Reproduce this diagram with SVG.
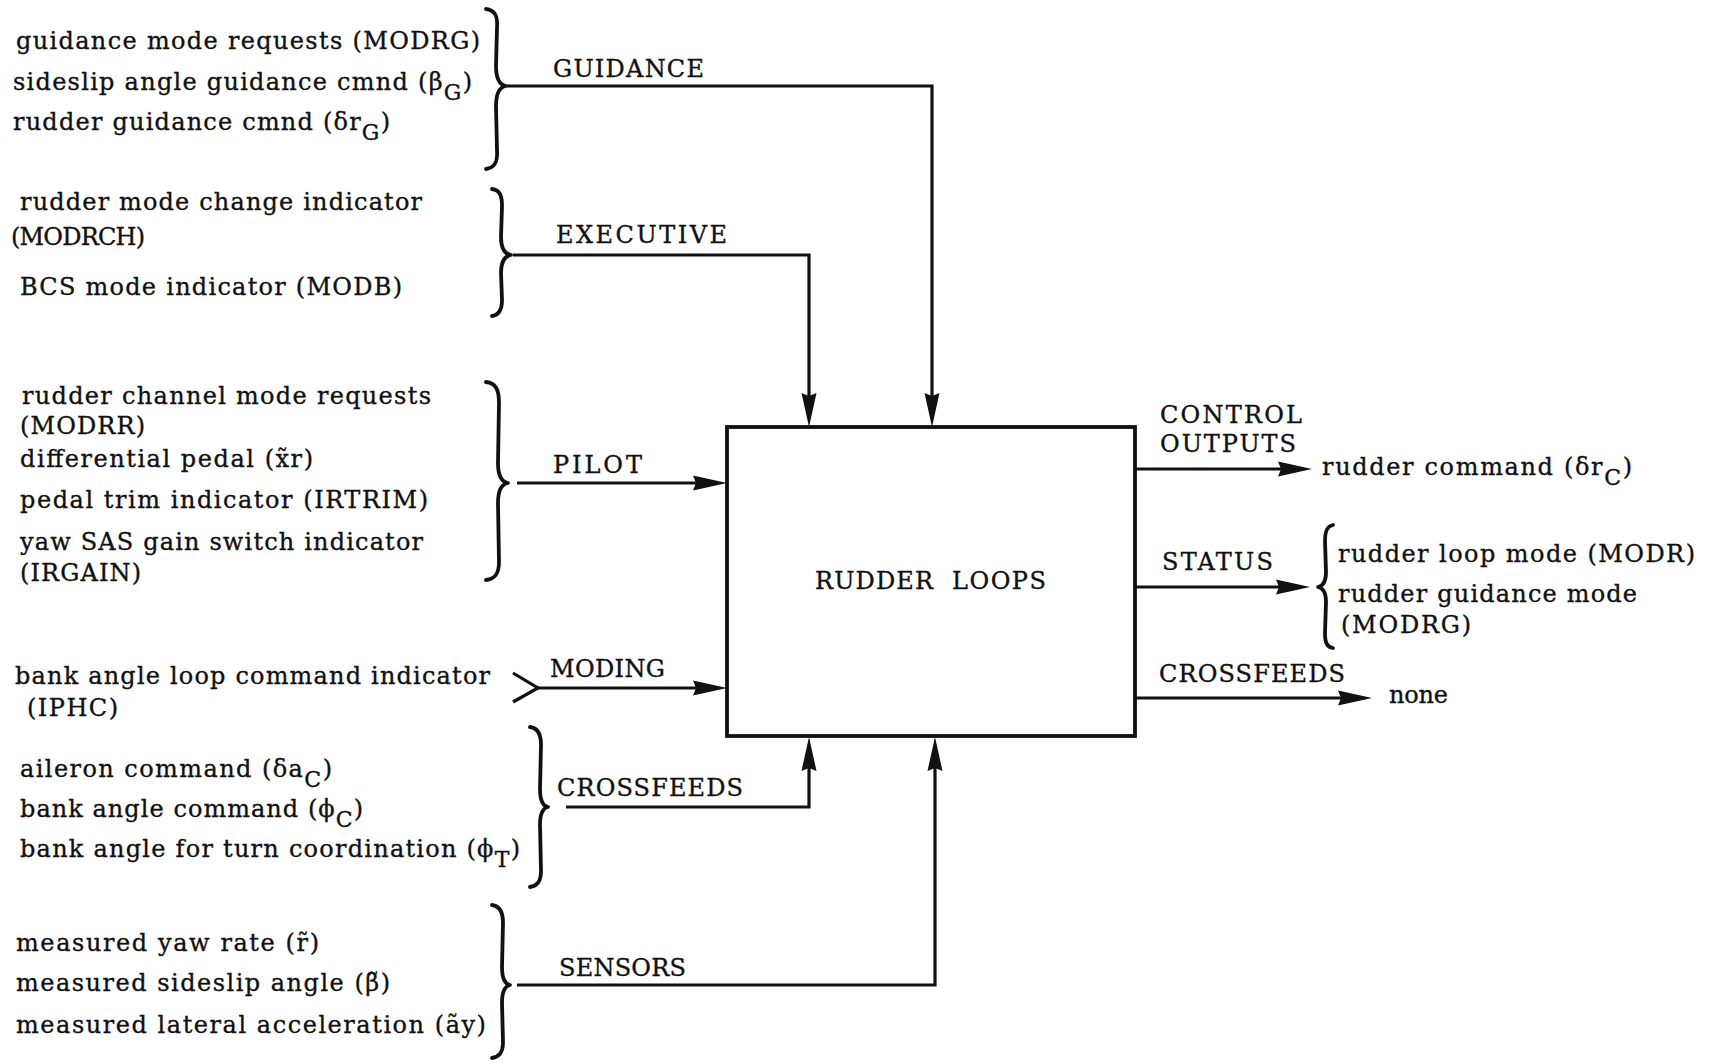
<svg xmlns="http://www.w3.org/2000/svg" width="1709" height="1063" viewBox="0 0 1709 1063">
<style>
  text { font-family: "DejaVu Serif", "Liberation Serif", serif; font-size: 24px; fill: #111; stroke: #111; stroke-width: 0.35; }
  .lbl { font-size: 24px; }
  .conn { fill: none; stroke: #111; stroke-width: 3.2; }
  .brace { fill: none; stroke: #111; stroke-width: 3.8; stroke-linecap: round; stroke-linejoin: round; }
  .box { fill: #fff; stroke: #111; stroke-width: 3.8; }
  .sub { font-size: 22px; }
</style>
<defs>
  <marker id="ah" markerUnits="userSpaceOnUse" markerWidth="36" markerHeight="16" refX="24" refY="8" orient="auto">
    <path d="M0,0.5 L34,8 L0,15.5 L3,8 z" fill="#111"/>
  </marker>
</defs>
<rect width="1709" height="1063" fill="#fff"/>

<g id="connectors">
  <path class="conn" d="M507,86 H932 V417" marker-end="url(#ah)"/>
  <path class="conn" d="M513,255 H809 V417" marker-end="url(#ah)"/>
  <path class="conn" d="M517,483 H717" marker-end="url(#ah)"/>
  <path class="conn" d="M538,688 H717" marker-end="url(#ah)"/>
  <path class="conn" d="M513,673 L538,688 L513,702"/>
  <path class="conn" d="M566,807 H809 V747" marker-end="url(#ah)"/>
  <path class="conn" d="M517,985 H935 V747" marker-end="url(#ah)"/>
  <path class="conn" d="M1135,469 H1302" marker-end="url(#ah)"/>
  <path class="conn" d="M1135,587 H1300" marker-end="url(#ah)"/>
  <path class="conn" d="M1135,698 H1362" marker-end="url(#ah)"/>
</g>

<g id="rudder-loops">
  <rect class="box" x="727" y="427" width="408" height="309"/>
  <text x="815" y="589" textLength="118">RUDDER</text>
  <text x="952" y="589" textLength="94">LOOPS</text>
</g>

<g id="in-guidance">
  <text x="16" y="49" textLength="464">guidance mode requests (MODRG)</text>
  <text x="13" y="90" textLength="459">sideslip angle guidance cmnd (β<tspan class="sub" dy="10">G</tspan><tspan dy="-10">)</tspan></text>
  <text x="13" y="130" textLength="377">rudder guidance cmnd (δr<tspan class="sub" dy="10">G</tspan><tspan dy="-10">)</tspan></text>
  <path class="brace" d="M486,9 C495,10 498,16 497,28 L496,66 C496,80 500,85 506,86 C500,87 496,92 496,106 L497,150 C498,163 494,168 486,169"/>
  <text class="lbl" x="553" y="77" textLength="151">GUIDANCE</text>
</g>

<g id="in-executive">
  <text x="20" y="210" textLength="402">rudder mode change indicator</text>
  <text x="11" y="245" textLength="134">(MODRCH)</text>
  <text x="20" y="295" textLength="382">BCS mode indicator (MODB)</text>
  <path class="brace" d="M492,189 C500,190 502,196 502,206 L501,237 C501,249 505,254 511,255 C505,256 501,261 501,273 L502,300 C502,310 499,315 492,316"/>
  <text class="lbl" x="556" y="243" textLength="171">EXECUTIVE</text>
</g>

<g id="in-pilot">
  <text x="22" y="404" textLength="409">rudder channel mode requests</text>
  <text x="20" y="434" textLength="125">(MODRR)</text>
  <text x="20" y="467" textLength="293">differential pedal (x̃r)</text>
  <text x="20" y="508" textLength="408">pedal trim indicator (IRTRIM)</text>
  <text x="20" y="550" textLength="403">yaw SAS gain switch indicator</text>
  <text x="20" y="581" textLength="121">(IRGAIN)</text>
  <path class="brace" d="M486,382 C496,383 499,390 499,403 L498,463 C498,477 502,482 508,483 C502,484 498,489 498,503 L499,562 C499,574 495,579 486,580"/>
  <text class="lbl" x="553" y="473" textLength="89">PILOT</text>
</g>

<g id="in-moding">
  <text x="15" y="684" textLength="475">bank angle loop command indicator</text>
  <text x="27" y="716" textLength="91">(IPHC)</text>
  <text class="lbl" x="550" y="677" textLength="115">MODING</text>
</g>

<g id="in-crossfeeds">
  <text x="20" y="777" textLength="312">aileron command (δa<tspan class="sub" dy="10">C</tspan><tspan dy="-10">)</tspan></text>
  <text x="20" y="817" textLength="343">bank angle command (ϕ<tspan class="sub" dy="10">C</tspan><tspan dy="-10">)</tspan></text>
  <text x="20" y="857" textLength="500">bank angle for turn coordination (ϕ<tspan class="sub" dy="10">T</tspan><tspan dy="-10">)</tspan></text>
  <path class="brace" d="M530,727 C538,728 541,734 541,745 L540,789 C540,801 543,806 548,807 C543,808 540,813 540,825 L541,871 C541,882 537,886 530,887"/>
  <text class="lbl" x="557" y="796" textLength="186">CROSSFEEDS</text>
</g>

<g id="in-sensors">
  <text x="16" y="951" textLength="303">measured yaw rate (r̃)</text>
  <text x="16" y="991" textLength="374">measured sideslip angle (β̃)</text>
  <text x="16" y="1033" textLength="470">measured lateral acceleration (ãy)</text>
  <path class="brace" d="M492,905 C500,906 503,912 503,923 L502,967 C502,979 505,984 510,985 C505,986 502,991 502,1003 L503,1042 C503,1053 499,1057 492,1058"/>
  <text class="lbl" x="559" y="976" textLength="127">SENSORS</text>
</g>

<g id="out-control">
  <text class="lbl" x="1160" y="423" textLength="142">CONTROL</text>
  <text class="lbl" x="1160" y="452" textLength="136">OUTPUTS</text>
  <text x="1322" y="475" textLength="310">rudder command (δr<tspan class="sub" dy="10">C</tspan><tspan dy="-10">)</tspan></text>
</g>

<g id="out-status">
  <text class="lbl" x="1162" y="570" textLength="111">STATUS</text>
  <path class="brace" d="M1333,525 C1327,526 1325,531 1325,541 L1326,572 C1326,582 1323,586 1318,587 C1323,588 1326,592 1326,602 L1325,633 C1325,643 1327,647 1333,648"/>
  <text x="1338" y="562" textLength="357">rudder loop mode (MODR)</text>
  <text x="1338" y="602" textLength="299">rudder guidance mode</text>
  <text x="1341" y="633" textLength="130">(MODRG)</text>
</g>

<g id="out-crossfeeds">
  <text class="lbl" x="1159" y="682" textLength="186">CROSSFEEDS</text>
  <text x="1389" y="703" textLength="59">none</text>
</g>
</svg>
